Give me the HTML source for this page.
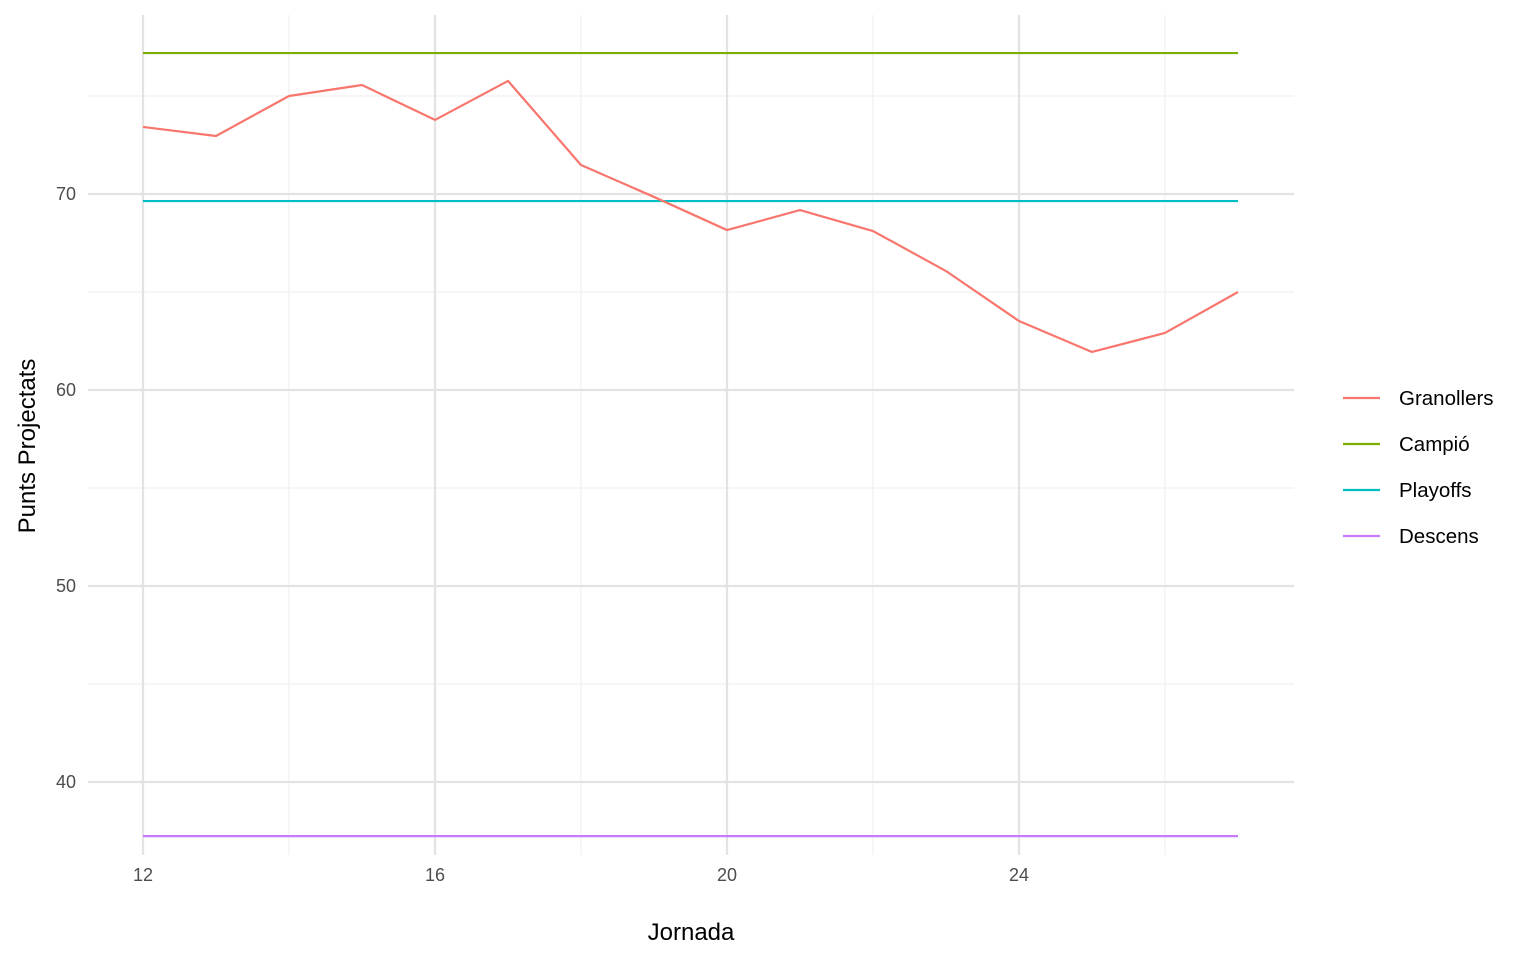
<!DOCTYPE html>
<html><head><meta charset="utf-8">
<style>
body{margin:0;background:#fff;font-family:"Liberation Sans",Arial,sans-serif;}
svg text{font-family:"Liberation Sans",Arial,sans-serif;}
</style></head>
<body>
<svg id="chart" width="1536" height="960"></svg>
<script>
const jornades=[12,13,14,15,16,17,18,19,20,21,22,23,24,25,26,27];
const granollers=[73.42,72.96,75.0,75.56,73.78,75.77,71.48,69.85,68.16,69.18,68.11,66.07,63.52,61.94,62.91,65.0];
const refNames=["Campió","Playoffs","Descens"];
const refValues=[77.19,69.64,37.24];
const xTicks=[12,16,20,24];
const xMinor=[14,18,22,26];
const yTicks=[40,50,60,70];
const yMinor=[45,55,65,75];
const legendNames=["Granollers","Campió","Playoffs","Descens"];
const colors=["#F8766D","#7CAE00","#00BFC4","#C77CFF"];

const NS="http://www.w3.org/2000/svg";
const svg=document.getElementById('chart');
const L=88,R=1294,T=15,B=855;
const x=v=>143+(v-12)*73;
const y=v=>194-(v-70)*19.6;
function el(tag,attrs,parent){const e=document.createElementNS(NS,tag);for(const k in attrs)e.setAttribute(k,attrs[k]);(parent||svg).appendChild(e);return e;}

yMinor.forEach(v=>{const e=el('line',{x1:L,x2:R,y1:y(v),y2:y(v),stroke:'#eeeeee','stroke-width':1});

});
xMinor.forEach(v=>{const e=el('line',{x1:x(v),x2:x(v),y1:T,y2:B,stroke:'#eeeeee','stroke-width':1});

});
yTicks.forEach(v=>{const e=el('line',{x1:L,x2:R,y1:y(v),y2:y(v),stroke:'#e3e3e3','stroke-width':2.2});


const t=el('text',{x:76,y:y(v)+6,'text-anchor':'end','font-size':18,fill:'#4d4d4d'});t.textContent=v;

});
xTicks.forEach(v=>{const e=el('line',{x1:x(v),x2:x(v),y1:T,y2:B,stroke:'#e3e3e3','stroke-width':2.2});


const t=el('text',{x:x(v),y:881,'text-anchor':'middle','font-size':18,fill:'#4d4d4d'});t.textContent=v;

});

const x0=jornades[0],x1=jornades[jornades.length-1];
refValues.forEach((v,i)=>{const e=el('line',{x1:x(x0),x2:x(x1),y1:y(v),y2:y(v),stroke:colors[i+1],'stroke-width':2.2});

});
const p=el('polyline',{points:jornades.map((j,i)=>x(j)+','+y(granollers[i])).join(' '),fill:'none',stroke:colors[0],'stroke-width':2.2,'stroke-linejoin':'round'});



const xt=el('text',{x:691,y:940,'text-anchor':'middle','font-size':24,fill:'#000'});xt.textContent='Jornada';


const yt=el('text',{x:35,y:446,'text-anchor':'middle','font-size':24,fill:'#000',transform:'rotate(-90 35 446)'});yt.textContent='Punts Projectats';



legendNames.forEach((n,i)=>{const g=el('g',{});


const ly=398+i*46;
el('line',{x1:1343,x2:1380,y1:ly,y2:ly,stroke:colors[i],'stroke-width':2.2},g);
const t=el('text',{x:1399,y:ly+7,'font-size':20.5,fill:'#000'},g);t.textContent=n;});
</script>
</body></html>
